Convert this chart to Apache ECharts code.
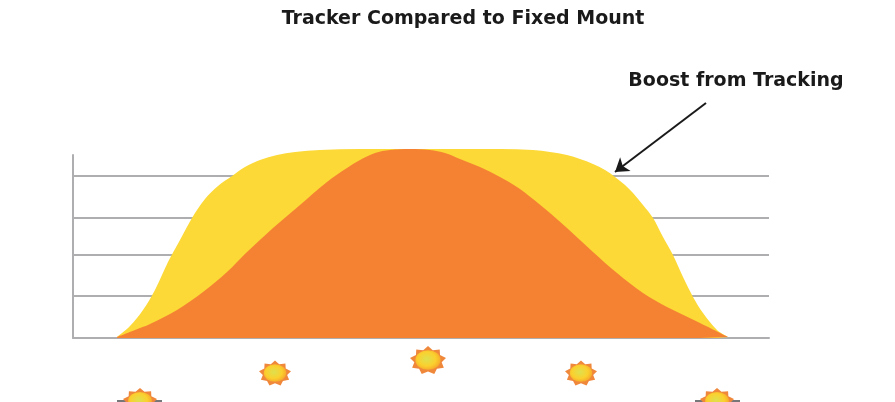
<!DOCTYPE html>
<html>
<head>
<meta charset="utf-8">
<title>Tracker Compared to Fixed Mount</title>
<style>
  html, body { margin: 0; padding: 0; background: #fff; }
  #chart { width: 895px; height: 402px; filter: blur(0.6px); }
</style>
<script src="https://cdn.jsdelivr.net/npm/echarts@6/dist/echarts.min.js"></script>
</head>
<body>
<div id="chart"></div>
<script>
// Values, [position along the day, output]
const trackerOutput = [
  [44, 1], [57, 12], [70, 28], [82, 48], [95, 76], [107, 98], [119, 120], [132, 139],
  [145, 152], [159, 162], [172, 171], [187, 178], [204, 183], [222, 186], [247, 188],
  [287, 189], [337, 189], [387, 189], [427, 189], [460, 188], [477, 186], [494, 183],
  [507, 179], [520, 174], [532, 168], [542, 161], [552, 153], [560, 145], [570, 133],
  [580, 120], [590, 101], [600, 83], [610, 61], [620, 41], [630, 25], [644, 8], [655, 1]
];
const fixedOutput = [
  [44, 1], [62, 8], [77, 14], [104, 28], [130, 46], [154, 66], [174, 86], [200, 110],
  [227, 133], [254, 156], [274, 170], [287, 178], [302, 185], [317, 188], [337, 189],
  [357, 188], [372, 185], [387, 179], [407, 171], [427, 161], [444, 151], [460, 139],
  [477, 125], [494, 110], [520, 86], [544, 65], [570, 45], [594, 31], [627, 15], [655, 1]
];
const gridLevels = [42, 83, 120, 162];
const sunPositions = [[67, -63], [202, -35], [355, -22], [508, -35], [644, -63]];
const sunSizes = [[34, 26], [32, 25], [36, 28], [32, 25], [34, 26]];
const horizonLeft = [[44, -63], [89, -63]];
const horizonRight = [[622, -63], [667, -63]];

const titleText = 'Tracker Compared to Fixed Mount';
const noteText = 'Boost from Tracking';

// Spiky sun outline for the scatter symbol
function sunPath(points) {
  let d = '';
  for (let i = 0; i < points * 2; i++) {
    const r = i % 2 ? 38 : 50;
    const a = (Math.PI * i) / points - Math.PI / 2;
    d += (i ? 'L' : 'M') + (50 + r * Math.cos(a)).toFixed(1) + ' ' + (50 + r * Math.sin(a)).toFixed(1);
  }
  return 'path://' + d + 'Z';
}

const chart = echarts.init(document.getElementById('chart'));
const fontFamily = '"DejaVu Sans", sans-serif';

const sunData = (scale) => sunPositions.map((p, i) => ({
  value: p,
  symbolSize: [sunSizes[i][0] * scale, sunSizes[i][1] * scale]
}));

chart.setOption({
  backgroundColor: '#ffffff',
  animation: false,
  title: [
    {
      text: titleText, left: 458, top: 5, textAlign: 'center',
      textStyle: { fontFamily, fontSize: 19, fontWeight: 'bold', color: '#1a1a1a' }
    },
    {
      text: noteText, left: 731, top: 67, textAlign: 'center',
      textStyle: { fontFamily, fontSize: 19, fontWeight: 'bold', color: '#1a1a1a' }
    }
  ],
  grid: { left: 73, top: 155, width: 696, height: 183 },
  xAxis: {
    type: 'value', min: 0, max: 696,
    axisLine: { show: true, lineStyle: { color: '#aeaeb0', width: 2 } },
    axisTick: { show: false }, axisLabel: { show: false }, splitLine: { show: false }
  },
  yAxis: {
    type: 'value', min: 0, max: 183,
    axisLine: { show: true, lineStyle: { color: '#aeaeb0', width: 2 } },
    axisTick: { show: false }, axisLabel: { show: false }, splitLine: { show: false }
  },
  series: [
    {
      // Uneven horizontal rules
      type: 'line', data: [], z: 1,
      markLine: {
        silent: true, symbol: 'none', animation: false, z: 1,
        label: { show: false },
        lineStyle: { color: '#aeaeb0', width: 2, type: 'solid' },
        data: gridLevels.map((v) => ({ yAxis: v }))
      }
    },
    {
      name: 'Tracker', type: 'line', data: trackerOutput, smooth: 0.33, showSymbol: false, clip: false, z: 2,
      lineStyle: { width: 0 }, areaStyle: { color: '#fcd936', opacity: 1 }
    },
    {
      name: 'Fixed Mount', type: 'line', data: fixedOutput, smooth: 0.33, showSymbol: false, clip: false, z: 3,
      lineStyle: { width: 0 }, areaStyle: { color: '#f58233', opacity: 1 }
    },
    {
      type: 'line', data: horizonLeft, showSymbol: false, clip: false, z: 4,
      lineStyle: { color: '#77777a', width: 2 }
    },
    {
      type: 'line', data: horizonRight, showSymbol: false, clip: false, z: 4,
      lineStyle: { color: '#77777a', width: 2 }
    },
    {
      type: 'scatter', data: sunData(1), symbol: sunPath(9), clip: false, z: 5,
      itemStyle: { color: '#f0883c', opacity: 1 }
    },
    {
      type: 'scatter', data: sunData(0.7), symbol: 'circle', clip: false, z: 6,
      itemStyle: {
        opacity: 1,
        color: {
          type: 'radial', x: 0.45, y: 0.45, r: 0.6,
          colorStops: [
            { offset: 0, color: '#dfe04e' },
            { offset: 0.6, color: '#fbd02e' },
            { offset: 1, color: '#f6a32a' }
          ]
        }
      }
    },
    {
      // Arrow pointing at the gap between the two curves
      type: 'line', data: [], z: 10,
      markLine: {
        silent: true, animation: false, z: 10,
        symbol: ['none', 'arrow'], symbolSize: 13,
        label: { show: false },
        lineStyle: { color: '#1a1a1a', width: 2, type: 'solid' },
        data: [[{ x: 706, y: 103 }, { x: 615, y: 172 }]]
      }
    }
  ]
});
</script>
</body>
</html>
